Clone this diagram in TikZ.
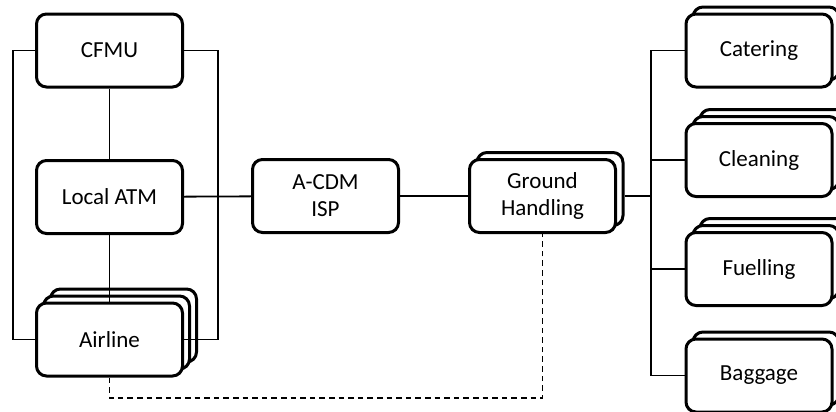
\documentclass[tikz,border=0pt]{standalone}
\usepackage{fontspec}
\setmainfont{Carlito}
\usepackage{tikz}
\usetikzlibrary{positioning}

\begin{document}
\begin{tikzpicture}[
    x=0.5pt, y=-0.5pt,
    unit/.style={rectangle, draw, fill=white, rounded corners=5pt, line width=1.5pt,
        minimum width=73pt, minimum height=36.5pt, align=center,
        font=\fontsize{11.5}{13.5}\selectfont},
    link/.style={line width=0.9pt},
    weak/.style={line width=0.9pt, dash pattern=on 2.8pt off 2pt}
]
\clip (0,0) rectangle (836,412);

% left cluster
\node[unit] (cfmu) at (109.5, 50.5) {CFMU};
\node[unit] (localatm) at (109.5, 197) {Local ATM};
\node[unit] (airlineC) at (123.5, 325.5) {};
\node[unit] (airlineB) at (116.5, 332.5) {};
\node[unit] (airline) at (109.5, 339.5) {Airline};

% centre
\node[unit] (isp) at (325.5, 196) {A-CDM\\ISP};
\node[unit] (ghB) at (550, 189) {};
\node[unit] (gh) at (542.5, 196) {Ground\\Handling};

% service providers
\node[unit] (cateringB) at (766, 43.5) {};
\node[unit] (catering) at (759, 50.5) {Catering};
\node[unit] (cleaningC) at (773, 146) {};
\node[unit] (cleaningB) at (766, 153) {};
\node[unit] (cleaning) at (759, 160) {Cleaning};
\node[unit] (fuellingC) at (773, 255) {};
\node[unit] (fuellingB) at (766, 262) {};
\node[unit] (fuelling) at (759, 269) {Fuelling};
\node[unit] (baggageB) at (766, 368.5) {};
\node[unit] (baggage) at (759, 375.5) {Baggage};

\coordinate (lloop) at (13, 197);
\coordinate (rloop) at (218, 197);
\coordinate (hub) at (651, 196);
\coordinate (dashlow) at (0, 398);

\draw[link] (cfmu) -- (localatm);
\draw[link] (localatm) -- (airline.north);
\draw[link] (cfmu.west) -| (lloop) |- (airline.west);
\draw[link] (cfmu.east) -| (rloop) |- (airline.east);
\draw[link] (localatm) -- (isp);
\draw[link] (isp) -- (gh);
\draw[link] (ghB.east |- gh.east) -- (hub);
\draw[link] (catering.west) -| (hub) |- (baggage.west);
\draw[link] (cleaning.west) -| (hub);
\draw[link] (fuelling.west) -| (hub);
\draw[weak] (airline.south) -- (airline.south |- dashlow) -| (gh.south);

\end{tikzpicture}
\end{document}
